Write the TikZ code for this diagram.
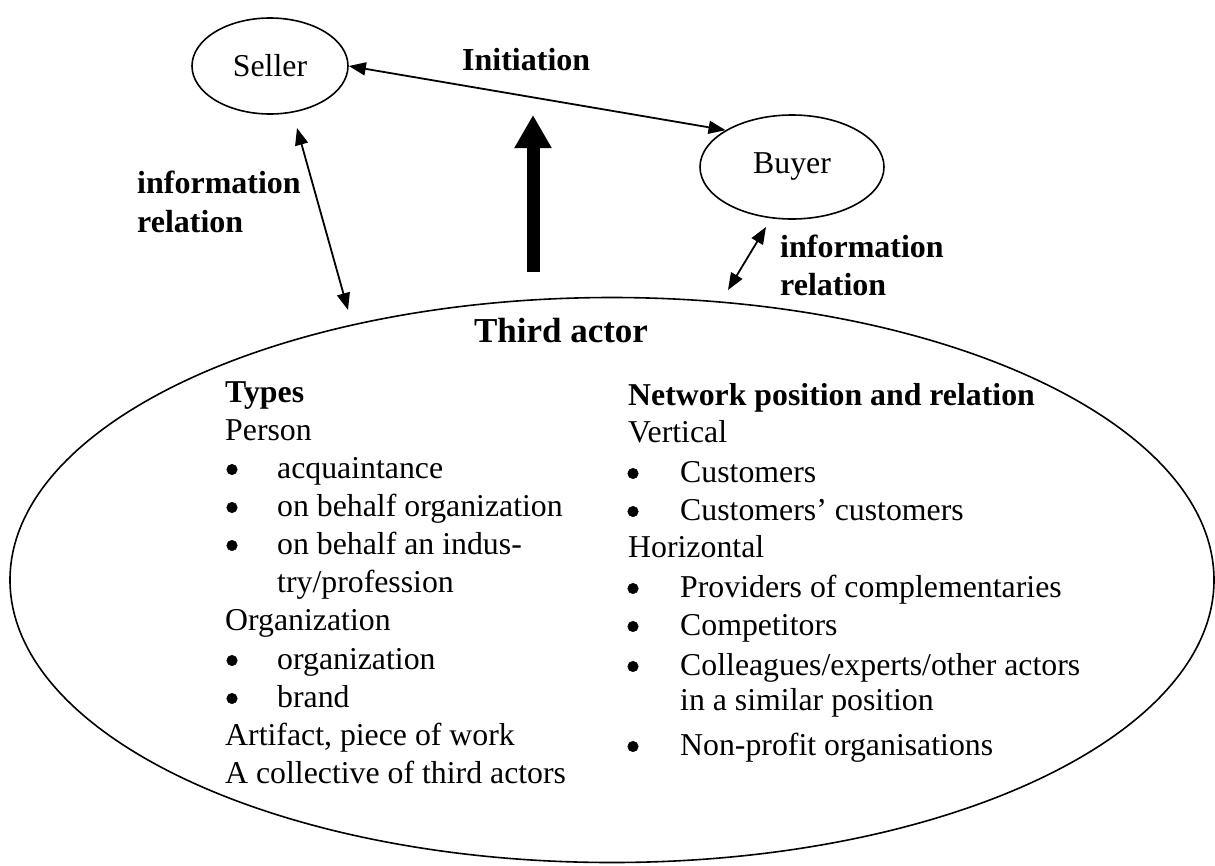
\documentclass[tikz,border=0pt]{standalone}
\usepackage{fontspec}
\setmainfont{Liberation Serif}
\usetikzlibrary{shapes.geometric,arrows.meta}
\begin{document}
\begin{tikzpicture}[x=1pt,y=-1pt,
  oval/.style={draw, ellipse, line width=1.6pt, inner sep=0pt,
    font=\fontsize{31.8}{38}\selectfont},
  body/.style={anchor=base west, inner sep=0pt, font=\fontsize{31.8}{38}\selectfont},
  head/.style={anchor=base west, inner sep=0pt, font=\fontsize{31.8}{38}\selectfont\bfseries},
  bulletmark/.style={circle, draw=black, fill=black, line width=0.5pt, inner sep=0pt,
    minimum size=10.5pt, yshift=8.5pt},
  tag/.style={anchor=base west, inner sep=0pt, font=\fontsize{32}{38}\selectfont\bfseries},
  link/.style={line width=1.8pt,
    {Triangle[length=17pt,width=13pt]}-{Triangle[length=17pt,width=13pt]}},
]
\useasboundingbox (0,0) rectangle (1215,865);

% actors
\node[oval, minimum width=1204pt, minimum height=565pt] (third) at (612,580) {};
\node[oval, minimum width=156pt, minimum height=96pt] (seller) at (270,66) {Seller};
\node[oval, minimum width=184pt, minimum height=104pt] (buyer) at (792,167) {Buyer};

% initiation between seller and buyer
\draw[link] (seller.east) -- (buyer.151);
\node[tag] (init) at (462,70) {Initiation};

% thick arrow from the third actor upwards
\coordinate (upbase) at (533,272);
\coordinate (uptip) at (533,115);
\draw[line width=13pt, -{Triangle[length=33pt,width=35pt]}] (upbase) -- (uptip);

% information relations
\coordinate (la) at (297,128);
\coordinate (lb) at (348,310);
\draw[link] (la) -- (lb);
\node[tag] (linfo1) at (137,193) {information};
\node[tag] (linfo2) at (137,232) {relation};

\coordinate (ra) at (766,227);
\coordinate (rb) at (728,290);
\draw[link] (ra) -- (rb);
\node[tag] (rinfo1) at (780,257) {information};
\node[tag] (rinfo2) at (780,295) {relation};

% title of the third actor
\node[anchor=base, inner sep=0pt, font=\fontsize{35}{40}\selectfont\bfseries] (title) at (561,342) {Third actor};

% left column: types
\node[head] (l1) at (225,402) {Types};
\node[body] (l2) at (225,440) {Person};
\node[bulletmark] (lb3) at (232,478) {};
\node[body] (l3) at (277,478) {acquaintance};
\node[bulletmark] (lb4) at (232,516) {};
\node[body] (l4) at (277,516) {on behalf organization};
\node[bulletmark] (lb5) at (232,554) {};
\node[body] (l5) at (277,554) {on behalf an indus-};
\node[body] (l6) at (277,592) {try/profession};
\node[body] (l7) at (225,630) {Organization};
\node[bulletmark] (lb8) at (232,669) {};
\node[body] (l8) at (277,669) {organization};
\node[bulletmark] (lb9) at (232,707) {};
\node[body] (l9) at (277,707) {brand};
\node[body] (l10) at (225,745) {Artifact, piece of work};
\node[body] (l11) at (225,783) {A collective of third actors};

% right column: network position and relation
\node[head] (r1) at (628,405) {Network position and relation};
\node[body] (r2) at (628,442) {Vertical};
\node[bulletmark] (rb3) at (633,482) {};
\node[body] (r3) at (680,482) {Customers};
\node[bulletmark] (rb4) at (633,520) {};
\node[body] (r4) at (680,520) {Customers’ customers};
\node[body] (r5) at (628,557) {Horizontal};
\node[bulletmark] (rb6) at (633,597) {};
\node[body] (r6) at (680,597) {Providers of complementaries};
\node[bulletmark] (rb7) at (633,635) {};
\node[body] (r7) at (680,635) {Competitors};
\node[bulletmark] (rb8) at (633,675) {};
\node[body] (r8) at (680,675) {Colleagues/experts/other actors};
\node[body] (r9) at (680,710) {in a similar position};
\node[bulletmark] (rb10) at (633,755) {};
\node[body] (r10) at (680,755) {Non-profit organisations};
\end{tikzpicture}
\end{document}
